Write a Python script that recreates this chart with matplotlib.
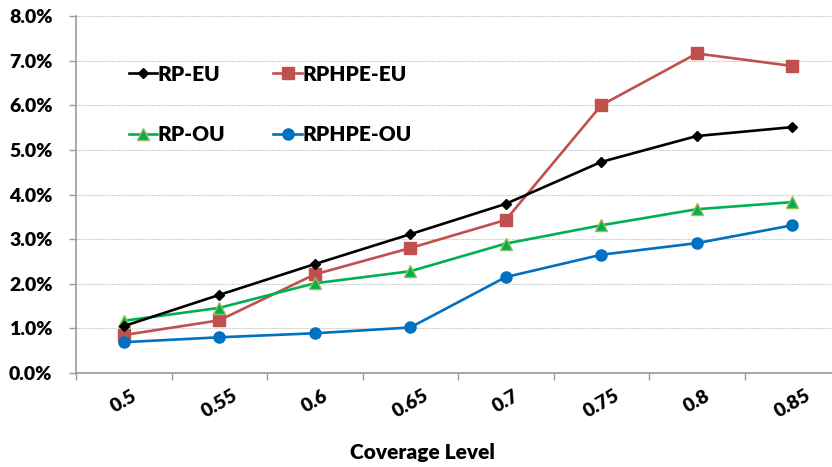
import matplotlib
matplotlib.use("Agg")
import matplotlib.pyplot as plt
from matplotlib.ticker import FuncFormatter, FixedLocator
import numpy as np

plt.rcParams['font.family'] = ['Lato', 'DejaVu Sans']
W = 800

categories = ["0.5", "0.55", "0.6", "0.65", "0.7", "0.75", "0.8", "0.85"]
rp_eu = [1.05, 1.75, 2.44, 3.11, 3.79, 4.73, 5.31, 5.51]
rphpe_eu = [0.85, 1.18, 2.21, 2.80, 3.43, 6.00, 7.16, 6.88]
rp_ou = [1.17, 1.46, 2.01, 2.28, 2.90, 3.31, 3.67, 3.83]
rphpe_ou = [0.69, 0.80, 0.89, 1.02, 2.15, 2.65, 2.91, 3.31]
y_ticks = [0, 1, 2, 3, 4, 5, 6, 7, 8]

fig = plt.figure(figsize=(8.32, 4.67), dpi=100)
ax_left, ax_bottom, ax_w, ax_h = 76, 94, 840 - 76, 373 - 16
ax = fig.add_axes([ax_left/832, ax_bottom/467, ax_w/832, ax_h/467])

x = np.arange(len(categories))
lw = 1.9
h1, = ax.plot(x, rp_eu, color='black', lw=lw, marker='D', ms=5.5, label='RP-EU', zorder=4)
h2, = ax.plot(x, rphpe_eu, color='#C0504D', lw=lw, marker='s', ms=8, label='RPHPE-EU', zorder=3)
h3, = ax.plot(x, rp_ou, color='#00B050', lw=lw, marker='^', ms=8, mec='#9BBB59', mew=1, label='RP-OU', zorder=3)
h4, = ax.plot(x, rphpe_ou, color='#0070C0', lw=lw, marker='o', ms=8, label='RPHPE-OU', zorder=3)

ax.set_xlim(-0.5, len(categories) - 0.5)
ax.set_ylim(0, 8)
ax.set_xticks(x)
ax.set_xticklabels(categories, rotation=30, ha='center', va='top', fontsize=14, fontweight=W)
ax.xaxis.set_minor_locator(FixedLocator(np.arange(-0.5, len(categories), 1)))
ax.tick_params(axis='x', which='major', length=0, pad=10)
ax.tick_params(axis='x', which='minor', length=5, color='#999999', width=1)
ax.set_yticks(y_ticks)
ax.yaxis.set_major_formatter(FuncFormatter(lambda v, p: f"{v:.1f}%"))
ax.tick_params(axis='y', length=5, color='#999999', width=1, labelsize=14, pad=12)
for lab in ax.get_yticklabels():
    lab.set_fontweight(W)

ax.grid(axis='y', linestyle=(0, (1, 1)), color='#BBBBBB', lw=0.8)
ax.set_axisbelow(True)
for s in ['top', 'right']:
    ax.spines[s].set_visible(False)
for s in ['left', 'bottom']:
    ax.spines[s].set_color('#999999')
    ax.spines[s].set_linewidth(1.2)

ax.set_xlabel('Coverage Level', fontsize=15, fontweight=W, va='center')
ax.xaxis.set_label_coords((422 - ax_left) / ax_w, (15 - ax_bottom) / ax_h)

leg = ax.legend([h1, h3, h2, h4], ['RP-EU', 'RP-OU', 'RPHPE-EU', 'RPHPE-OU'],
                ncol=2, loc='upper left', bbox_to_anchor=(110/832, 1 - 46/467), bbox_transform=fig.transFigure,
                frameon=False, prop={'weight': W, 'size': 15}, handlelength=1.35, handletextpad=0.05,
                labelspacing=2.0, columnspacing=2.3)

fig.savefig('out.png', dpi=100)
